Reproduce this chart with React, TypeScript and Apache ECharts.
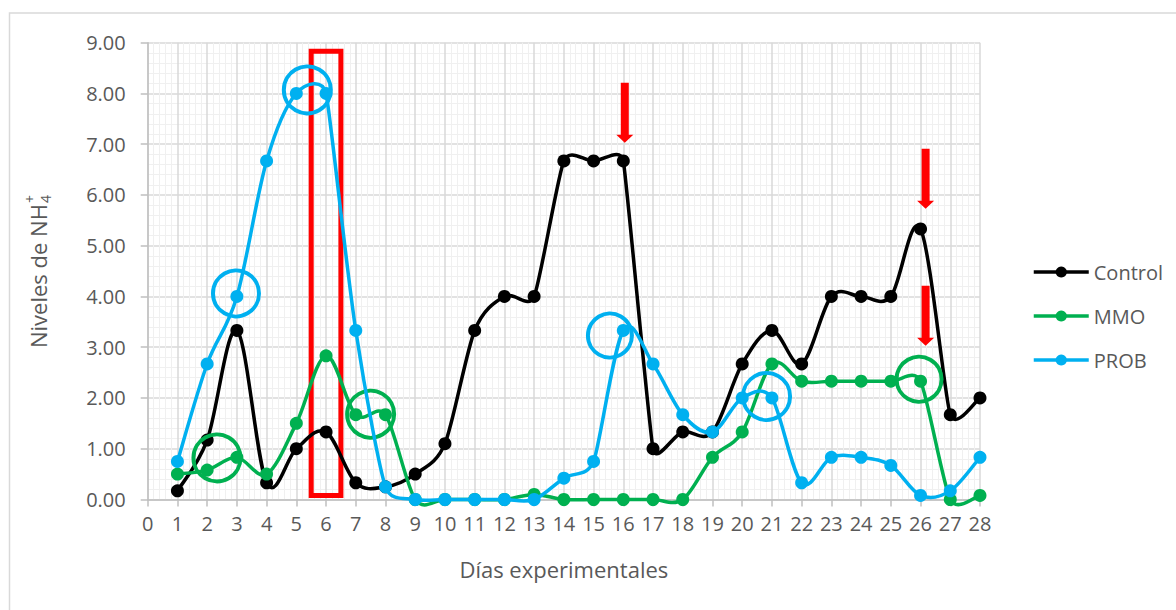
import React, { useEffect, useRef } from "react";
import * as echarts from "echarts";

const days = [1, 2, 3, 4, 5, 6, 7, 8, 9, 10, 11, 12, 13, 14, 15, 16, 17, 18, 19, 20, 21, 22, 23, 24, 25, 26, 27, 28];
const control = [0.17, 1.17, 3.33, 0.33, 1.0, 1.33, 0.33, 0.25, 0.5, 1.1, 3.33, 4.0, 4.0, 6.67, 6.67, 6.67, 1.0, 1.33, 1.33, 2.67, 3.33, 2.67, 4.0, 4.0, 4.0, 5.33, 1.67, 2.0];
const mmo = [0.5, 0.58, 0.83, 0.5, 1.5, 2.83, 1.67, 1.67, 0, 0, 0, 0, 0.1, 0, 0, 0, 0, 0, 0.83, 1.33, 2.67, 2.33, 2.33, 2.33, 2.33, 2.33, 0, 0.08];
const prob = [0.75, 2.67, 4.0, 6.67, 8.0, 8.0, 3.33, 0.25, 0, 0, 0, 0, 0, 0.42, 0.75, 3.33, 2.67, 1.67, 1.33, 2.0, 2.0, 0.33, 0.83, 0.83, 0.67, 0.08, 0.17, 0.83];

const seriesNames = ["Control", "MMO", "PROB"];
const seriesColors = ["#000000", "#00b050", "#00b0f0"];

// annotation anchors (data coordinates)
const blueRings = [[2.97, 4.06, 46], [5.37, 8.07, 47], [15.55, 3.23, 44], [20.82, 2.03, 47]];
const greenRings = [[2.33, 0.82, 47], [7.5, 1.68, 47], [25.95, 2.37, 45]];
const arrows = [[16.05, 7.62], [26.17, 6.32], [26.17, 3.62]];
const redBox = [[5.5, 8.83], [6.5, 0.08]];

const FONT = "'Open Sans', 'Noto Sans', sans-serif";
const TXT = "#595959";
const ARROW = "path://M4.5 0H12.5V52H17L8.5 60L0 52H4.5Z";

function smoothPath(pts: number[][]): string {
  const n = pts.length;
  const dist = (a: number[], b: number[]) => Math.hypot(a[0] - b[0], a[1] - b[1]);
  const tan = pts.map((p, i) => {
    const a = pts[Math.max(0, i - 1)];
    const b = pts[Math.min(n - 1, i + 1)];
    let tx = (b[0] - a[0]) / 6;
    let ty = (b[1] - a[1]) / 6;
    const d0 = i > 0 ? dist(p, a) : Infinity;
    const d1 = i < n - 1 ? dist(p, b) : Infinity;
    const lim = Math.min(d0, d1) / 2;
    const len = Math.hypot(tx, ty);
    if (len > lim && len > 0) {
      tx *= lim / len;
      ty *= lim / len;
    }
    return [tx, ty];
  });
  let d = `M${pts[0][0]},${pts[0][1]}`;
  for (let i = 0; i < n - 1; i++) {
    const p = pts[i];
    const q = pts[i + 1];
    d += ` C${p[0] + tan[i][0]},${p[1] + tan[i][1]} ${q[0] - tan[i + 1][0]},${q[1] - tan[i + 1][1]} ${q[0]},${q[1]}`;
  }
  return d;
}

export default function App() {
  const ref = useRef<HTMLDivElement>(null);
  useEffect(() => {
    if (!ref.current) return;
    const chart = echarts.init(ref.current, null, { renderer: "svg" });
    const all = [control, mmo, prob];
    const series: any[] = [];
    seriesNames.forEach((n, k) => {
      const vals = all[k];
      series.push({
        name: n + " curve",
        type: "custom",
        silent: true,
        z: 2 + 2 * k,
        data: [[0, 0]],
        renderItem: (params: any, api: any) => {
          const pts = days.map((d, i) => api.coord([d, vals[i]]));
          return {
            type: "path",
            shape: { pathData: smoothPath(pts) },
            style: { fill: "none", stroke: seriesColors[k], lineWidth: 3.5, lineJoin: "round", lineCap: "round" },
          };
        },
      });
      series.push({
        name: n,
        type: "line",
        data: days.map((d, i) => [d, vals[i]]),
        symbol: "circle",
        symbolSize: 13,
        lineStyle: { width: 3.5, color: seriesColors[k], opacity: 0 },
        itemStyle: { color: seriesColors[k] },
        z: 3 + 2 * k,
      });
    });
    const marks: any[] = [];
    blueRings.forEach((r) =>
      marks.push({ coord: [r[0], r[1]], symbol: "circle", symbolSize: r[2], itemStyle: { color: "rgba(0,0,0,0)", borderColor: "#00b0f0", borderWidth: 4 } })
    );
    greenRings.forEach((r) =>
      marks.push({ coord: [r[0], r[1]], symbol: "circle", symbolSize: r[2], itemStyle: { color: "rgba(0,0,0,0)", borderColor: "#00b050", borderWidth: 4 } })
    );
    arrows.forEach((a) =>
      marks.push({ coord: [a[0], a[1]], symbol: ARROW, symbolSize: [17, 60], itemStyle: { color: "#ff0000", borderWidth: 0 } })
    );
    series.push({
      name: "annot",
      type: "line",
      data: [],
      z: 10,
      silent: true,
      markPoint: { silent: true, label: { show: false }, data: marks },
      markArea: {
        silent: true,
        label: { show: false },
        itemStyle: { color: "rgba(0,0,0,0)", borderColor: "#ff0000", borderWidth: 5 },
        data: [[{ coord: redBox[0] }, { coord: redBox[1] }]],
      },
    });
    chart.setOption({
      animation: false,
      textStyle: { fontFamily: FONT },
      grid: { left: 147.7, right: 196, top: 42.7, bottom: 110.5 },
      legend: {
        data: seriesNames,
        orient: "vertical",
        left: 1032,
        top: 262,
        padding: 0,
        itemWidth: 55,
        itemHeight: 14,
        itemGap: 24,
        lineStyle: { width: 3.5, opacity: 1 },
        textStyle: { fontSize: 20, color: TXT, fontFamily: FONT },
      },
      xAxis: {
        type: "value",
        min: 0,
        max: 28,
        interval: 1,
        name: "Días experimentales",
        nameLocation: "middle",
        nameGap: 58,
        nameTextStyle: { fontSize: 22, color: TXT, fontFamily: FONT },
        axisLine: { show: true, lineStyle: { color: "#bfbfbf", width: 1.5 } },
        axisTick: { show: true, length: 7, lineStyle: { color: "#bfbfbf", width: 1.5 } },
        axisLabel: { fontSize: 20, color: TXT, margin: 14, fontFamily: FONT },
        splitLine: { show: true, lineStyle: { color: "#d9d9d9", width: 1.5 } },
        minorTick: { show: false, splitNumber: 5 },
        minorSplitLine: { show: true, lineStyle: { color: "#f0f0f0", width: 1 } },
      },
      yAxis: {
        type: "value",
        min: 0,
        max: 9,
        interval: 1,
        axisLine: { show: true, lineStyle: { color: "#bfbfbf", width: 1.5 } },
        axisTick: { show: true, length: 7, lineStyle: { color: "#bfbfbf", width: 1.5 } },
        axisLabel: { fontSize: 20, color: TXT, margin: 22, fontFamily: FONT, formatter: (v: number) => v.toFixed(2) },
        splitLine: { show: true, lineStyle: { color: "#d9d9d9", width: 1.5 } },
        minorTick: { show: false, splitNumber: 5 },
        minorSplitLine: { show: true, lineStyle: { color: "#f0f0f0", width: 1 } },
      },
      graphic: [
        {
          type: "rect",
          shape: { x: 9.5, y: 13, width: 1300, height: 700 },
          style: { fill: "none", stroke: "#d9d9d9", lineWidth: 1.5 },
          silent: true,
          z: -10,
        },
        {
          type: "group",
          x: 38,
          y: 348,
          rotation: Math.PI / 2,
          children: [
            { type: "text", x: 0, y: 0, style: { text: "Niveles de NH", fill: TXT, fontSize: 22, fontFamily: FONT, align: "left", verticalAlign: "middle" } },
            { type: "text", x: 145, y: 7, style: { text: "4", fill: TXT, fontSize: 14, fontFamily: FONT, align: "left", verticalAlign: "middle" } },
            { type: "text", x: 145, y: -9, style: { text: "+", fill: TXT, fontSize: 14, fontFamily: FONT, align: "left", verticalAlign: "middle" } },
          ],
        },
      ],
      series,
    });
    return () => chart.dispose();
  }, []);
  return <div ref={ref} style={{ position: "absolute", left: 0, top: 0, width: 1176, height: 610 }} />;
}
